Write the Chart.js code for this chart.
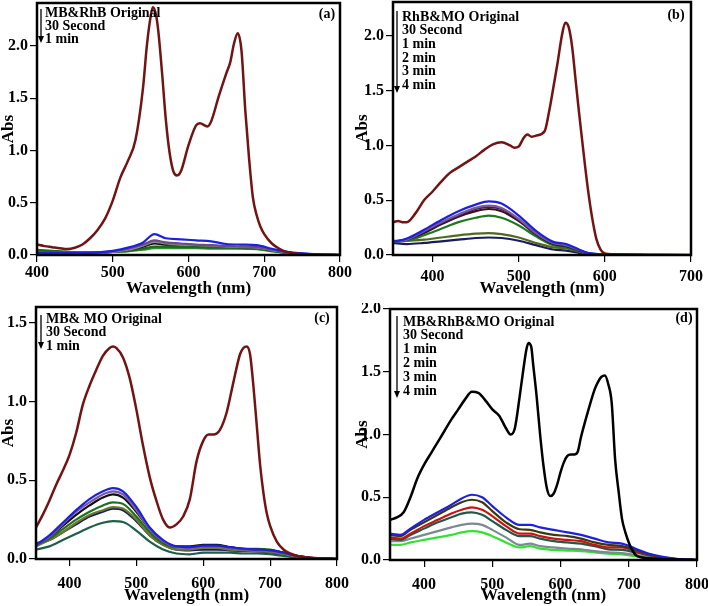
<!DOCTYPE html>
<html>
<head>
<meta charset="utf-8">
<script src="https://cdn.jsdelivr.net/npm/chart.js@4.4.0/dist/chart.umd.min.js"></script>
<style>
body { margin: 0; background: #fff; }
#wrap { position: relative; width: 708px; height: 606px; }
canvas { position: absolute; }
</style>
</head>
<body>
<div id="wrap">
  <canvas id="pa" width="354" height="303" style="left:0;top:0"></canvas>
  <canvas id="pb" width="354" height="303" style="left:354px;top:0"></canvas>
  <canvas id="pc" width="354" height="303" style="left:0;top:303px"></canvas>
  <canvas id="pd" width="354" height="303" style="left:354px;top:303px"></canvas>
</div>
<script>
// ---- (a) MB & RhB ----
const wlA = [400,410,420,430,440,450,460,470,480,490,500,510,520,530,540,545,550,553,557,560,565,570,575,580,585,590,600,610,615,625,630,640,650,655,660,665,670,675,680,685,690,695,700,710,720,730,740,760,800];
const origA = [0.10,0.085,0.075,0.065,0.057,0.07,0.10,0.16,0.24,0.35,0.52,0.74,0.90,1.10,1.60,2.00,2.28,2.37,2.30,2.15,1.75,1.30,0.98,0.80,0.76,0.80,1.05,1.24,1.26,1.23,1.28,1.52,1.74,1.84,2.02,2.12,1.95,1.38,0.92,0.55,0.38,0.27,0.20,0.11,0.06,0.03,0.015,0.005,0];
const wlSmallA = [400,420,440,460,480,500,520,540,555,570,590,610,630,650,670,690,710,730,750,770,800];
const blueA   = [0.02,0.02,0.02,0.02,0.025,0.04,0.07,0.12,0.20,0.16,0.15,0.14,0.13,0.105,0.10,0.095,0.06,0.03,0.015,0.006,0];
const purpleA = [0.02,0.02,0.02,0.02,0.025,0.035,0.06,0.10,0.14,0.12,0.11,0.10,0.095,0.085,0.08,0.075,0.05,0.025,0.012,0.005,0];
const grayA   = [0.02,0.02,0.02,0.02,0.022,0.03,0.05,0.09,0.125,0.11,0.10,0.095,0.09,0.08,0.075,0.07,0.045,0.022,0.01,0.004,0];
const blackA  = [0.02,0.02,0.015,0.015,0.02,0.03,0.05,0.08,0.11,0.10,0.10,0.095,0.09,0.08,0.075,0.07,0.045,0.02,0.01,0.004,0];
const dgreenA = [0.05,0.04,0.03,0.025,0.025,0.03,0.04,0.06,0.08,0.08,0.075,0.075,0.07,0.07,0.065,0.06,0.04,0.02,0.01,0.004,0];
const greenA  = [0.04,0.035,0.03,0.025,0.025,0.03,0.035,0.05,0.065,0.065,0.065,0.065,0.06,0.06,0.06,0.055,0.035,0.018,0.008,0.003,0];
const legendA = ['MB&RhB Original', '30 Second', '1 min'];

// ---- (b) RhB & MO ----
const wlB = [354,360,365,370,380,390,400,410,420,430,440,450,460,470,480,490,495,500,505,510,515,520,530,535,540,545,550,554,558,562,566,570,575,580,585,590,595,600,620,700];
const origB = [0.30,0.31,0.30,0.30,0.38,0.50,0.58,0.67,0.75,0.80,0.85,0.90,0.96,1.01,1.03,1.00,0.98,0.99,1.06,1.10,1.08,1.09,1.13,1.30,1.52,1.75,2.00,2.12,2.08,1.90,1.60,1.30,0.95,0.62,0.35,0.15,0.05,0.015,0.005,0];
const wlSmallB = [354,370,390,410,430,450,465,480,500,520,540,555,570,580,600,650,700];
const blueB    = [0.12,0.15,0.23,0.32,0.40,0.46,0.49,0.47,0.36,0.22,0.12,0.10,0.05,0.02,0.005,0,0];
const purpleB  = [0.12,0.14,0.22,0.30,0.37,0.43,0.45,0.43,0.33,0.20,0.11,0.09,0.045,0.018,0.005,0,0];
const dpurpleB = [0.12,0.14,0.21,0.29,0.36,0.42,0.44,0.42,0.32,0.19,0.105,0.085,0.043,0.017,0.005,0,0];
const maroonB  = [0.12,0.14,0.20,0.28,0.35,0.40,0.42,0.40,0.31,0.19,0.10,0.08,0.04,0.015,0.004,0,0];
const greenB   = [0.12,0.13,0.18,0.24,0.30,0.34,0.36,0.34,0.27,0.17,0.09,0.07,0.035,0.012,0.004,0,0];
const oliveB   = [0.13,0.13,0.14,0.16,0.18,0.195,0.20,0.19,0.16,0.11,0.07,0.06,0.03,0.01,0.003,0,0];
const navyB    = [0.11,0.10,0.11,0.125,0.14,0.155,0.16,0.155,0.13,0.09,0.05,0.04,0.02,0.008,0.002,0,0];
const legendB = ['RhB&MO Original', '30 Second', '1 min', '2 min', '3 min', '4 min'];

// ---- (c) MB & MO ----
const wlC = [350,360,370,380,390,400,410,420,430,440,450,460,465,470,480,490,500,510,520,530,540,550,560,570,580,590,600,608,615,625,635,645,655,660,665,670,675,680,685,690,695,700,710,720,730,740,760,780,800];
const origC = [0.20,0.28,0.37,0.47,0.56,0.66,0.80,0.98,1.10,1.20,1.29,1.34,1.35,1.34,1.28,1.15,0.95,0.72,0.52,0.37,0.25,0.20,0.22,0.27,0.38,0.62,0.75,0.79,0.79,0.82,0.93,1.12,1.30,1.34,1.35,1.30,1.10,0.85,0.60,0.42,0.29,0.21,0.11,0.06,0.035,0.02,0.008,0.003,0];
const wlSmallC = [350,370,390,410,430,450,465,480,500,520,540,560,580,600,620,640,660,680,700,720,740,760,800];
const blueC   = [0.09,0.15,0.23,0.31,0.38,0.43,0.45,0.43,0.33,0.20,0.12,0.08,0.075,0.085,0.085,0.075,0.065,0.06,0.055,0.04,0.02,0.008,0];
const purpleC = [0.09,0.14,0.22,0.30,0.36,0.41,0.43,0.41,0.31,0.19,0.11,0.075,0.07,0.08,0.08,0.07,0.06,0.058,0.052,0.038,0.018,0.007,0];
const blackC  = [0.09,0.14,0.21,0.28,0.34,0.39,0.41,0.39,0.30,0.19,0.11,0.08,0.08,0.09,0.09,0.075,0.065,0.06,0.055,0.04,0.02,0.008,0];
const greenC  = [0.09,0.13,0.19,0.25,0.30,0.34,0.36,0.35,0.27,0.17,0.10,0.075,0.075,0.085,0.085,0.075,0.065,0.065,0.06,0.04,0.02,0.008,0];
const oliveC  = [0.08,0.12,0.17,0.23,0.28,0.31,0.33,0.32,0.25,0.15,0.09,0.06,0.06,0.07,0.07,0.06,0.055,0.05,0.045,0.03,0.015,0.006,0];
const navyC   = [0.10,0.12,0.17,0.22,0.27,0.30,0.32,0.31,0.24,0.15,0.09,0.06,0.055,0.06,0.06,0.055,0.05,0.048,0.042,0.03,0.015,0.006,0];
const tealC   = [0.06,0.08,0.12,0.16,0.20,0.23,0.24,0.235,0.18,0.11,0.06,0.035,0.03,0.04,0.04,0.04,0.035,0.035,0.03,0.02,0.01,0.004,0];
const legendC = ['MB& MO Original', '30 Second', '1 min'];

// ---- (d) MB & RhB & MO ----
const wlD = [350,360,370,380,390,400,410,420,430,440,450,460,470,480,490,500,510,520,527,533,540,545,550,553,557,560,565,570,575,580,585,590,595,600,605,610,615,620,625,630,640,650,655,660,665,670,675,680,685,690,695,700,705,710,720,740,760,800];
const origD = [0.32,0.34,0.38,0.50,0.65,0.76,0.85,0.94,1.03,1.12,1.20,1.28,1.34,1.33,1.27,1.20,1.15,1.05,1.00,1.05,1.30,1.50,1.68,1.73,1.70,1.55,1.30,1.00,0.75,0.57,0.51,0.53,0.60,0.70,0.78,0.83,0.84,0.84,0.86,0.98,1.18,1.36,1.42,1.46,1.47,1.40,1.25,0.80,0.55,0.33,0.22,0.14,0.08,0.04,0.02,0.01,0.005,0];
const wlSmallD = [350,365,380,400,420,440,455,470,485,500,520,540,555,570,590,610,630,650,670,690,710,730,750,770,800];
const blueD  = [0.21,0.20,0.25,0.32,0.38,0.44,0.49,0.52,0.50,0.43,0.34,0.28,0.28,0.26,0.24,0.22,0.20,0.17,0.14,0.13,0.09,0.05,0.025,0.01,0];
const oliveD = [0.20,0.19,0.24,0.30,0.36,0.42,0.46,0.48,0.46,0.39,0.30,0.245,0.24,0.22,0.20,0.19,0.17,0.14,0.12,0.11,0.08,0.045,0.02,0.008,0];
const redD   = [0.18,0.17,0.21,0.27,0.32,0.37,0.40,0.42,0.40,0.35,0.27,0.21,0.21,0.19,0.17,0.16,0.15,0.12,0.10,0.10,0.07,0.04,0.02,0.008,0];
const tealD  = [0.17,0.16,0.20,0.25,0.30,0.34,0.37,0.38,0.36,0.31,0.24,0.19,0.19,0.17,0.15,0.14,0.13,0.11,0.085,0.08,0.06,0.035,0.015,0.006,0];
const grayD  = [0.15,0.15,0.17,0.20,0.23,0.26,0.28,0.29,0.28,0.24,0.18,0.12,0.13,0.11,0.10,0.09,0.085,0.07,0.06,0.055,0.04,0.02,0.01,0.004,0];
const greenD = [0.12,0.12,0.14,0.16,0.18,0.20,0.22,0.23,0.22,0.19,0.14,0.10,0.11,0.09,0.08,0.075,0.07,0.06,0.05,0.045,0.03,0.015,0.007,0.003,0];
const legendD = ['MB&RhB&MO Original', '30 Second', '1 min', '2 min', '3 min', '4 min'];

// tick labels
const xTicksA = [400, 500, 600, 700, 800];
const xTicksB = [400, 500, 600, 700];
const xTicksC = [400, 500, 600, 700, 800];
const xTicksD = [400, 500, 600, 700, 800];
const yTicksA = [0, 0.5, 1.0, 1.5, 2.0];
const yTicksB = [0, 0.5, 1.0, 1.5, 2.0];
const yTicksC = [0, 0.5, 1.0, 1.5];
const yTicksD = [0, 0.5, 1.0, 1.5, 2.0];

const W = 354, H = 303;
const SERIF = "'Liberation Serif', 'Times New Roman', serif";
const MAROON = '#721414';

// frame round the plot area + legend arrow and text
const framePlugin = {
    id: 'panelDeco',
    afterDraw(chart, args, opts) {
        const ctx = chart.ctx;
        const a = chart.chartArea;
        ctx.save();
        ctx.strokeStyle = '#000';
        ctx.lineWidth = 2.5;
        ctx.strokeRect(a.left, a.top, a.right - a.left, a.bottom - a.top);

        // arrow
        ctx.lineWidth = 1.3;
        ctx.beginPath();
        ctx.moveTo(opts.arrowX, opts.arrowTop);
        ctx.lineTo(opts.arrowX, opts.arrowBottom - 5);
        ctx.stroke();
        ctx.beginPath();
        ctx.moveTo(opts.arrowX - 3, opts.arrowBottom - 7);
        ctx.lineTo(opts.arrowX + 3, opts.arrowBottom - 7);
        ctx.lineTo(opts.arrowX, opts.arrowBottom);
        ctx.closePath();
        ctx.fillStyle = '#000';
        ctx.fill();

        ctx.font = 'bold 14px ' + SERIF;
        ctx.textBaseline = 'middle';
        ctx.textAlign = 'left';
        opts.lines.forEach((t, i) => {
            ctx.fillText(t, opts.textX, opts.textY + i * opts.lineGap);
        });

        ctx.font = 'bold 14px ' + SERIF;
        ctx.textAlign = 'center';
        ctx.fillText(opts.tag, opts.tagX, opts.tagY);
        ctx.restore();
    }
};

function makePanel(id, p) {
    const tickFont = { family: SERIF, size: 16, weight: 'bold' };
    const titleFont = { family: SERIF, size: 17, weight: 'bold', lineHeight: 1 };
    new Chart(document.getElementById(id), {
        type: 'line',
        data: {
            datasets: p.series.map(s => ({
                data: s.wl.map((x, i) => ({ x: x, y: s.y[i] })),
                borderColor: s.color,
                borderWidth: s.width || 2.2,
                pointRadius: 0,
                fill: false,
                cubicInterpolationMode: 'monotone'
            }))
        },
        options: {
            responsive: false,
            animation: false,
            devicePixelRatio: 1,
            layout: { padding: { left: 0, top: p.box.top, right: W - p.box.right, bottom: 0 } },
            plugins: {
                legend: { display: false },
                tooltip: { enabled: false },
                panelDeco: p.deco
            },
            scales: {
                x: {
                    type: 'linear',
                    min: p.xMin,
                    max: p.xMax,
                    afterBuildTicks: s => { s.ticks = p.xTicks.map(v => ({ value: v })); },
                    afterFit: s => {
                        s.height = H - p.box.bottom;
                        s.paddingLeft = 0; s.paddingRight = 0;
                    },
                    border: { display: false },
                    grid: { drawOnChartArea: false, drawTicks: true, tickLength: 7, color: '#000', lineWidth: 1.2 },
                    ticks: { color: '#000', font: tickFont, padding: p.xPad, maxRotation: 0, autoSkip: false },
                    title: { display: true, text: 'Wavelength (nm)', color: '#000', font: titleFont, padding: { top: 0, bottom: p.xTitlePad } }
                },
                y: {
                    min: 0,
                    max: p.yMax,
                    afterBuildTicks: s => { s.ticks = p.yTicks.map(v => ({ value: v })); },
                    afterFit: s => {
                        s.width = p.box.left;
                        s.paddingTop = 0; s.paddingBottom = 0;
                    },
                    border: { display: false },
                    grid: { drawOnChartArea: false, drawTicks: true, tickLength: 7, color: '#000', lineWidth: 1.2 },
                    ticks: { color: '#000', font: tickFont, padding: 2, callback: v => v.toFixed(1) },
                    title: { display: true, text: 'Abs', color: '#000', font: titleFont, padding: { top: 0, bottom: 0 } }
                }
            }
        },
        plugins: [framePlugin]
    });
}

makePanel('pa', {
    box: { left: 37, right: 340, top: 3, bottom: 255 },
    xMin: 400, xMax: 800, yMax: 2.41, xTicks: xTicksA, yTicks: yTicksA, xPad: 1, xTitlePad: 6,
    deco: { lines: legendA, textX: 45, textY: 13, lineGap: 13.3, arrowX: 41, arrowTop: 9, arrowBottom: 43, tag: '(a)', tagX: 327, tagY: 14 },
    series: [
        { wl: wlA, y: origA, color: MAROON, width: 2.5 },
        { wl: wlSmallA, y: blueA, color: '#1f1fe0' },
        { wl: wlSmallA, y: purpleA, color: '#6b4a8a' },
        { wl: wlSmallA, y: grayA, color: '#8a8a8a' },
        { wl: wlSmallA, y: blackA, color: '#111111' },
        { wl: wlSmallA, y: dgreenA, color: '#1a6a1a' },
        { wl: wlSmallA, y: greenA, color: '#2f8f2f' }
    ]
});

makePanel('pb', {
    box: { left: 39, right: 337, top: 2, bottom: 255 },
    xMin: 354, xMax: 700, yMax: 2.31, xTicks: xTicksB, yTicks: yTicksB, xPad: 5, xTitlePad: 6,
    deco: { lines: legendB, textX: 48, textY: 17, lineGap: 13.7, arrowX: 43, arrowTop: 11, arrowBottom: 93, tag: '(b)', tagX: 322, tagY: 15 },
    series: [
        { wl: wlB, y: origB, color: MAROON, width: 2.5 },
        { wl: wlSmallB, y: blueB, color: '#1f1fe0' },
        { wl: wlSmallB, y: purpleB, color: '#7a5a9a' },
        { wl: wlSmallB, y: dpurpleB, color: '#3a1d5c' },
        { wl: wlSmallB, y: maroonB, color: '#3a1010' },
        { wl: wlSmallB, y: greenB, color: '#1f7a1f' },
        { wl: wlSmallB, y: oliveB, color: '#4f6a1f' },
        { wl: wlSmallB, y: navyB, color: '#1a1a60' }
    ]
});

makePanel('pc', {
    box: { left: 36, right: 337, top: 4, bottom: 256 },
    xMin: 350, xMax: 800, yMax: 1.60, xTicks: xTicksC, yTicks: yTicksC, xPad: 8, xTitlePad: 2,
    deco: { lines: legendC, textX: 46, textY: 16, lineGap: 13.5, arrowX: 41, arrowTop: 12, arrowBottom: 46, tag: '(c)', tagX: 322, tagY: 15 },
    series: [
        { wl: wlC, y: origC, color: MAROON, width: 2.5 },
        { wl: wlSmallC, y: blueC, color: '#1f1fe0' },
        { wl: wlSmallC, y: purpleC, color: '#7a5a9a' },
        { wl: wlSmallC, y: blackC, color: '#111111' },
        { wl: wlSmallC, y: greenC, color: '#1f6f1f' },
        { wl: wlSmallC, y: oliveC, color: '#6a7a2a' },
        { wl: wlSmallC, y: navyC, color: '#1a1a60' },
        { wl: wlSmallC, y: tealC, color: '#1e5e4a' }
    ]
});

makePanel('pd', {
    box: { left: 36, right: 343, top: 6, bottom: 257 },
    xMin: 350, xMax: 800, yMax: 2.0, xTicks: xTicksD, yTicks: yTicksD, xPad: 8, xTitlePad: 2,
    deco: { lines: legendD, textX: 49, textY: 19, lineGap: 13.8, arrowX: 43, arrowTop: 13, arrowBottom: 95, tag: '(d)', tagX: 330, tagY: 15 },
    series: [
        { wl: wlD, y: origD, color: '#000000', width: 2.5 },
        { wl: wlSmallD, y: blueD, color: '#1f1fe0' },
        { wl: wlSmallD, y: oliveD, color: '#3a3a10' },
        { wl: wlSmallD, y: redD, color: '#cc1111' },
        { wl: wlSmallD, y: tealD, color: '#1e5a4a' },
        { wl: wlSmallD, y: grayD, color: '#7a8a90' },
        { wl: wlSmallD, y: greenD, color: '#33e033' }
    ]
});
</script>
</body>
</html>
